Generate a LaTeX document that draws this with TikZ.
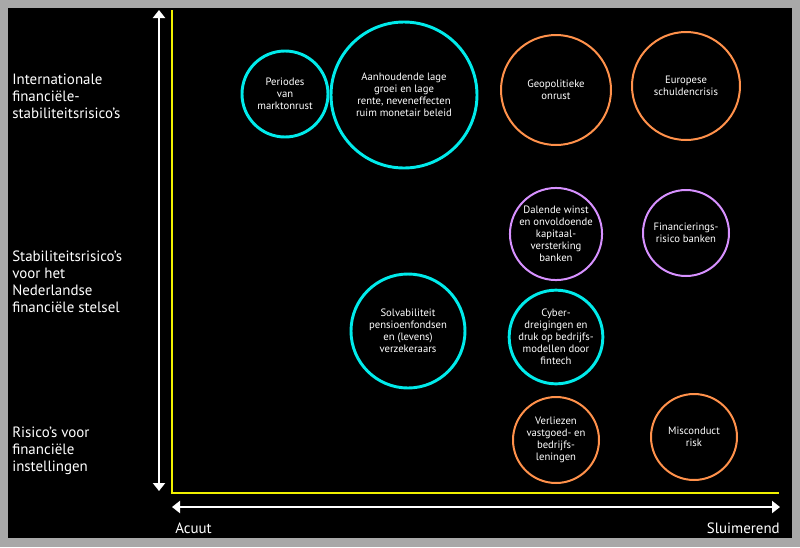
\documentclass[tikz,border=0pt]{standalone}
\usepackage{fontspec}
\setmainfont{PT Sans}
\usetikzlibrary{arrows.meta}
\definecolor{frame}{RGB}{168,168,168}
\definecolor{cyanc}{RGB}{0,235,235}
\definecolor{orangec}{RGB}{255,145,75}
\definecolor{purplec}{RGB}{215,145,255}
\definecolor{axisy}{RGB}{240,240,0}
\tikzset{
  bub/.style={circle, draw, inner sep=0pt, align=center, text=white,
    font=\fontsize{8pt}{9pt}\selectfont, minimum size=#1*1.5pt},
  cyanb/.style={bub=#1, draw=cyanc, line width=2.2pt},
  orangeb/.style={bub=#1, draw=orangec, line width=1.5pt},
  purpleb/.style={bub=#1, draw=purplec, line width=1.5pt},
  lab/.style={text=white, align=left, anchor=west, inner sep=0pt,
    font=\fontsize{11.2pt}{12.75pt}\selectfont},
  axlab/.style={text=white, inner sep=0pt, font=\fontsize{11.2pt}{12.75pt}\selectfont},
  warrow/.style={draw=white, line width=2.2pt, {Triangle[length=6pt,width=9pt]}-{Triangle[length=6pt,width=9pt]}},
  yaxis/.style={draw=axisy, line width=1pt}
}
\begin{document}
\begin{tikzpicture}[x=0.75pt,y=-0.75pt]
\useasboundingbox (0,0) rectangle (800,547);
\fill[frame] (0,0) rectangle (800,547);
\fill[black] (8,8) rectangle (792,538);
% axes
\coordinate (vt) at (159,10);
\coordinate (vb) at (159,491);
\coordinate (ht) at (172,507);
\coordinate (hr) at (780,507);
\coordinate (yt) at (172,10);
\coordinate (yc) at (172,493);
\coordinate (yr) at (779,493);
\draw[yaxis] (yt) -- (yc) -- (yr);
\draw[warrow] (vt) -- (vb);
\draw[warrow] (ht) -- (hr);
% labels
\node[lab] (l1) at (12,96) {Internationale\\financiële-\\stabiliteitsrisico’s};
\node[lab] (l2) at (12,281.5) {Stabiliteitsrisico’s\\voor het\\Nederlandse\\financiële stelsel};
\node[lab] (l3) at (12,451) {Risico’s voor\\financiële\\instellingen};
\node[axlab, anchor=west] (acuut) at (175,528) {Acuut};
\node[axlab, anchor=east] (sluim) at (780,528) {Sluimerend};
% bubbles
\node[cyanb=43] (b1) at (285,94) {Periodes\\van\\marktonrust};
\node[cyanb=73] (b2) at (404,95) {Aanhoudende lage\\groei en lage\\rente, neveneffecten\\ruim monetair beleid};
\node[orangeb=55] (b3) at (556,90) {Geopolitieke\\onrust};
\node[orangeb=54] (b4) at (686,86) {Europese\\schuldencrisis};
\node[purpleb=45] (b5) at (556,234) {Dalende winst\\en onvoldoende\\kapitaal-\\versterking\\banken};
\node[purpleb=43] (b6) at (686,233) {Financierings-\\risico banken};
\node[cyanb=57] (b7) at (408,331) {Solvabiliteit\\pensioenfondsen\\en (levens)\\verzekeraars};
\node[cyanb=43] (b8) at (556,337) {Cyber-\\dreigingen en\\druk op bedrijfs-\\modellen door\\fintech};
\node[orangeb=43] (b9) at (556,440) {Verliezen\\vastgoed- en\\bedrijfs-\\leningen};
\node[orangeb=43] (b10) at (694,437) {Misconduct\\risk};
\end{tikzpicture}
\end{document}
